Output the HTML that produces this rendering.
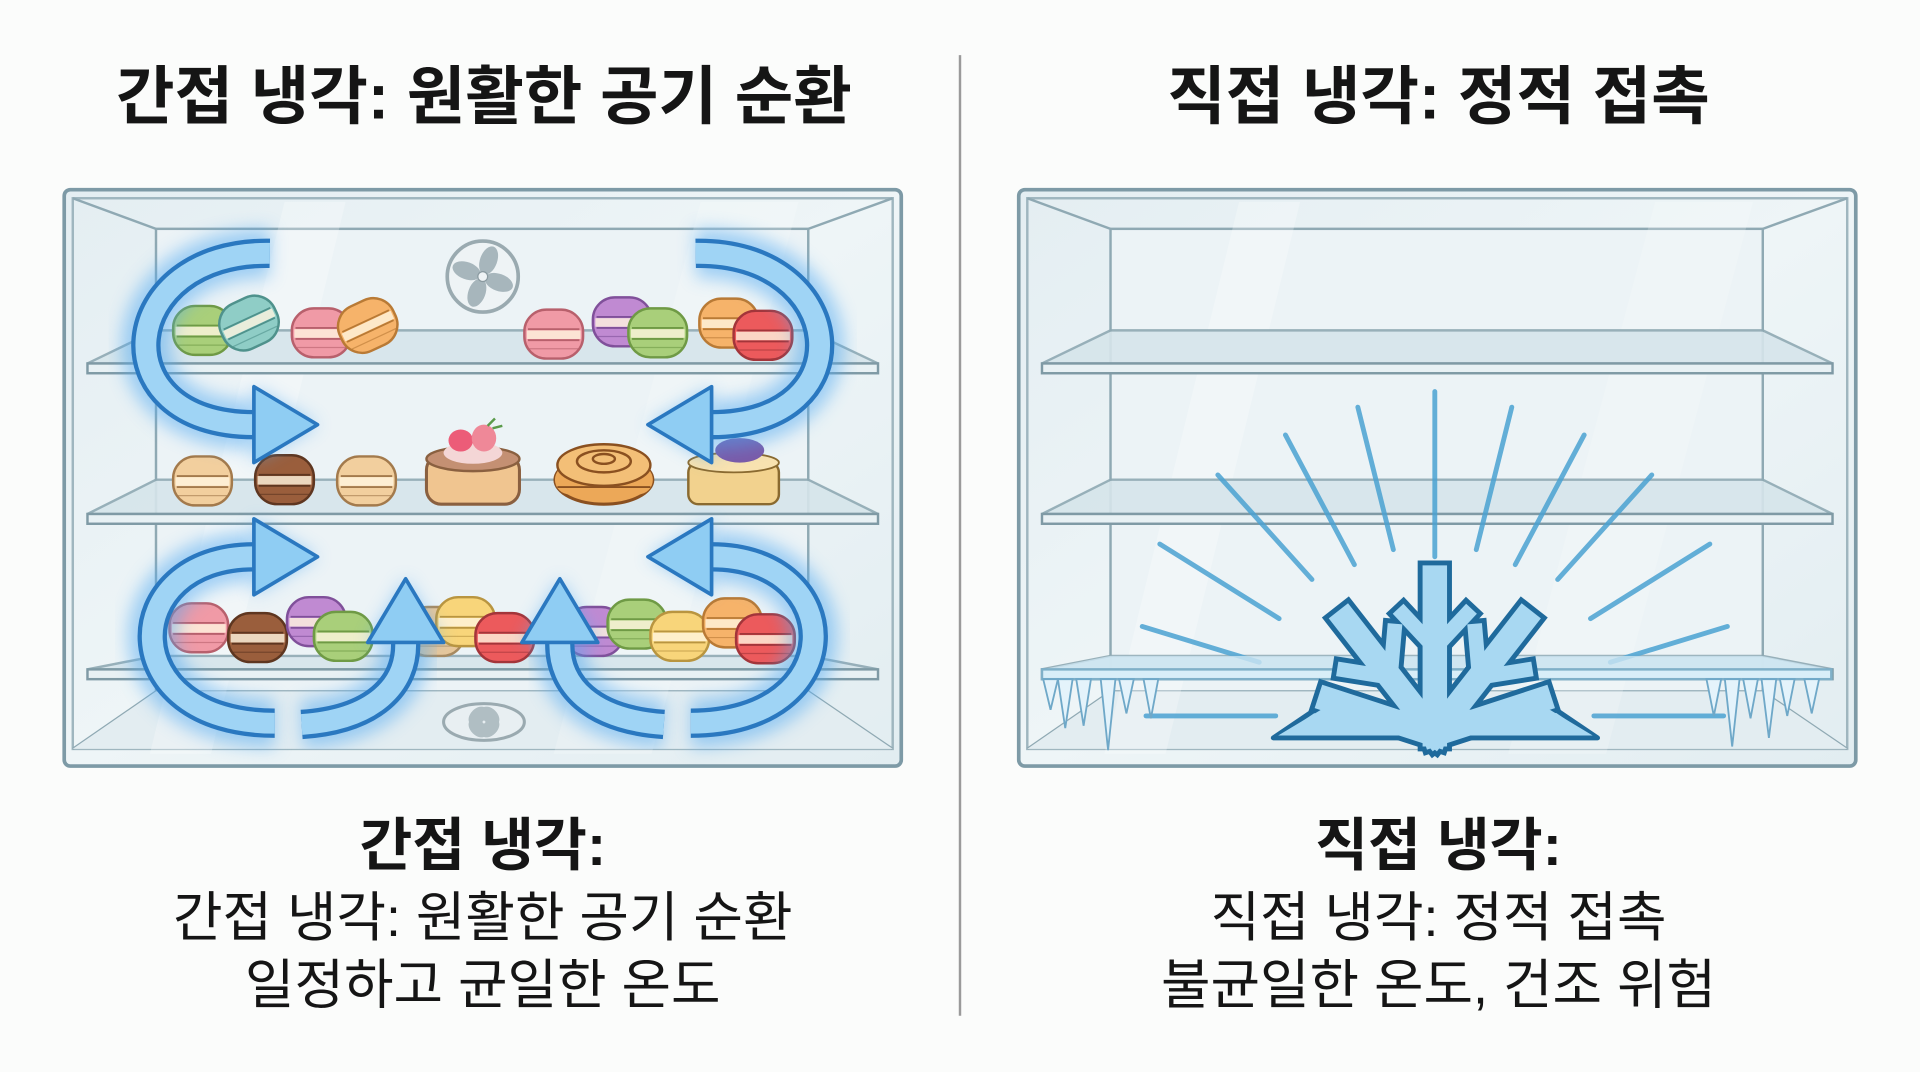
<!DOCTYPE html>
<html><head><meta charset="utf-8">
<style>
html,body{margin:0;padding:0;background:#fbfcfb;}
svg{display:block;}
text{font-family:"Liberation Sans","Noto Sans CJK KR",sans-serif;fill:#151515;}
</style></head>
<body>
<svg id="s" width="1920" height="1072" viewBox="0 0 1568 876" xmlns="http://www.w3.org/2000/svg">
<defs>
<filter id="glow" x="-30%" y="-30%" width="160%" height="160%"><feGaussianBlur stdDeviation="7"/></filter>
<linearGradient id="glass" x1="0" y1="0" x2="1" y2="1">
<stop offset="0" stop-color="#e4eef2"/><stop offset="0.5" stop-color="#eef5f7"/><stop offset="1" stop-color="#e2edf1"/></linearGradient>
</defs>
<rect width="1568" height="876" fill="#fbfcfb"/>
<line x1="784" y1="45" x2="784" y2="830" stroke="#9a9a9a" stroke-width="2"/>

<text x="395" y="97" font-size="52" font-weight="bold" text-anchor="middle">간접 냉각: 원활한 공기 순환</text>
<text x="1175" y="97" font-size="52" font-weight="bold" text-anchor="middle">직접 냉각: 정적 접촉</text>

<g id="boxes"></g>
<g id="content"></g>

<text x="394" y="707" font-size="47" font-weight="bold" text-anchor="middle">간접 냉각:</text>
<text x="394" y="765" font-size="44" text-anchor="middle">간접 냉각: 원활한 공기 순환</text>
<text x="394" y="820" font-size="44" text-anchor="middle">일정하고 균일한 온도</text>
<text x="1175" y="707" font-size="47" font-weight="bold" text-anchor="middle">직접 냉각:</text>
<text x="1175" y="765" font-size="44" text-anchor="middle">직접 냉각: 정적 접촉</text>
<text x="1175" y="820" font-size="44" text-anchor="middle">불균일한 온도, 건조 위험</text>
</svg>
<script>
const NS="http://www.w3.org/2000/svg";
function el(parent,tag,attrs){const e=document.createElementNS(NS,tag);for(const k in attrs)e.setAttribute(k,attrs[k]);parent.appendChild(e);return e;}
const boxes=document.getElementById('boxes'), C=document.getElementById('content');
const SC="#7d9aa6";
function box(x0){
  const g=el(boxes,'g',{});
  const L=x0, R=x0+684, T=155, B=626;
  const il=L+7, ir=R-7, it=T+7, ib=B-14;
  const bl=L+75, br=R-76, bt=187, bb=565;
  el(g,'rect',{x:L,y:T,width:R-L,height:B-T,rx:5,fill:"url(#glass)",stroke:SC,"stroke-width":3});
  el(g,'rect',{x:il,y:it,width:ir-il,height:ib-it,fill:"none",stroke:"#9fb6bf","stroke-width":2});
  el(g,'rect',{x:bl,y:bt,width:br-bl,height:bb-bt,fill:"#ecf3f6",stroke:"#8fa9b3","stroke-width":2});
  [[il,it,bl,bt],[ir,it,br,bt],[il,ib,bl,bb],[ir,ib,br,bb]].forEach(a=>el(g,'line',{x1:a[0],y1:a[1],x2:a[2],y2:a[3],stroke:"#8fa9b3","stroke-width":2}));
  el(g,'polygon',{points:`${il},${ib} ${bl},${bb} ${br},${bb} ${ir},${ib}`,fill:"#e3edf1",stroke:"none"});
  el(g,'polygon',{points:`${L+180},${T+10} ${L+230},${T+10} ${L+120},${B-10} ${L+70},${B-10}`,fill:"#fff",opacity:0.25});
  el(g,'polygon',{points:`${L+520},${T+10} ${L+600},${T+10} ${L+480},${B-10} ${L+400},${B-10}`,fill:"#fff",opacity:0.2});
  [[270,297],[392,420],[536,547]].forEach(s=>{
    el(g,'polygon',{points:`${bl},${s[0]} ${br},${s[0]} ${R-19},${s[1]} ${L+19},${s[1]}`,fill:"#d6e5eb",stroke:"#8fa9b3","stroke-width":2,opacity:0.9});
    el(g,'rect',{x:L+19,y:s[1],width:R-L-38,height:8,fill:"#e8f1f4",stroke:"#7f9aa5","stroke-width":2});
  });
}
box(52); box(832);

function mac(x,y,col,dark,rot){
  const g=el(C,'g',{transform:`translate(${x},${y}) rotate(${rot||0})`});
  const w=48,h=40;
  el(g,'rect',{x:-w/2,y:-h/2,width:w,height:h,rx:18,fill:col,stroke:dark,"stroke-width":2});
  el(g,'rect',{x:-w/2+2,y:-3,width:w-4,height:7,fill:"#fff5e0",opacity:0.8});
  el(g,'line',{x1:-w/2+3,y1:-4,x2:w/2-3,y2:-4,stroke:dark,"stroke-width":1.5});
  el(g,'line',{x1:-w/2+3,y1:5,x2:w/2-3,y2:5,stroke:dark,"stroke-width":1.5});
  el(g,'line',{x1:-w/2+4,y1:12,x2:w/2-4,y2:12,stroke:dark,"stroke-width":1,opacity:0.6});
}
const P={green:["#a9cf7a","#6f9a45"],teal:["#8fcdc6","#4f928c"],pink:["#f09aa6","#b8606c"],orange:["#f6b36a","#b97a35"],purple:["#c08ad2","#80509a"],red:["#ec5a5c","#a3353a"],beige:["#f2cf9e","#a37a4c"],brown:["#9a5e3c","#5e3620"],yellow:["#f8d57a","#b99540"],tan:["#e8c79a","#a88a60"]};
function m(x,y,c,r){mac(x,y,P[c][0],P[c][1],r);}
m(165,270,"green");m(203,264,"teal",-25);m(262,272,"pink");m(300,266,"orange",-25);
m(452,273,"pink");m(508,263,"purple");m(537,272,"green");m(595,264,"orange");m(623,274,"red");
m(165,393,"beige");m(232,392,"brown");m(299,393,"beige");
m(162,513,"pink");m(210,521,"brown");m(258,508,"purple");m(280,520,"green");
m(355,516,"tan");m(380,508,"yellow");m(412,521,"red");
m(485,516,"purple");m(520,510,"green");m(555,520,"yellow");m(598,509,"orange");m(625,522,"red");

(function(){
  const g=el(C,'g',{});
  el(g,'rect',{x:348,y:372,width:76,height:40,rx:12,fill:"#f0c590",stroke:"#8a6040","stroke-width":2.5});
  el(g,'ellipse',{cx:386,cy:375,rx:38,ry:10,fill:"#c49073",stroke:"#8a6040","stroke-width":2});
  el(g,'ellipse',{cx:386,cy:370,rx:24,ry:9,fill:"#f4d6d6"});
  el(g,'ellipse',{cx:376,cy:360,rx:10,ry:9,fill:"#ec5c78"});
  el(g,'ellipse',{cx:395,cy:358,rx:10,ry:11,fill:"#ef8898"});
  el(g,'path',{d:"M398 348 l6 -6 M402 350 l8 -2",stroke:"#5a9a4a","stroke-width":2});
  el(g,'ellipse',{cx:493,cy:392,rx:40,ry:20,fill:"#eca858",stroke:"#8a5020","stroke-width":2.5});
  el(g,'rect',{x:453,y:380,width:80,height:24,rx:12,fill:"#eca858",stroke:"none"});
  el(g,'ellipse',{cx:493,cy:380,rx:38,ry:17,fill:"#f3bf77",stroke:"#8a5020","stroke-width":2});
  el(g,'ellipse',{cx:493,cy:377,rx:22,ry:9,fill:"none",stroke:"#8a5020","stroke-width":2});
  el(g,'ellipse',{cx:493,cy:375,rx:9,ry:4,fill:"none",stroke:"#8a5020","stroke-width":2});
  el(g,'line',{x1:455,y1:398,x2:531,y2:398,stroke:"#8a5020","stroke-width":1.5});
  el(g,'rect',{x:562,y:378,width:74,height:34,rx:8,fill:"#f2d28e",stroke:"#8a6a30","stroke-width":2});
  el(g,'ellipse',{cx:599,cy:378,rx:37,ry:8,fill:"#f8e2b0",stroke:"#8a6a30","stroke-width":1.5});
  el(g,'ellipse',{cx:604,cy:368,rx:20,ry:10,fill:"#7a5aa8"});
})();

(function(){
  const g=el(C,'g',{});
  el(g,'circle',{cx:394,cy:226,r:29,fill:"#eef3f5",stroke:"#9aaab0","stroke-width":3});
  for(let i=0;i<4;i++){el(g,'ellipse',{cx:394,cy:212,rx:7,ry:12,fill:"#a7b6bc",transform:`rotate(${i*90+20} 394 226)`});}
  el(g,'circle',{cx:394,cy:226,r:4,fill:"#eef3f5",stroke:"#8a9aa0"});
  el(g,'ellipse',{cx:395,cy:590,rx:33,ry:15,fill:"#e8eff2",stroke:"#9aaab0","stroke-width":2.5});
  for(let i=0;i<4;i++){el(g,'ellipse',{cx:395,cy:583,rx:9,ry:6,fill:"#b0bec3",transform:`rotate(${i*90+45} 395 590) `});}
})();

function arrow(d,E,u){
  const g=el(C,'g',{});
  const n=[-u[1],u[0]], hw=31, hl=52;
  const tip=[E[0]+u[0]*hl,E[1]+u[1]*hl];
  const a=[E[0]+n[0]*hw,E[1]+n[1]*hw], b=[E[0]-n[0]*hw,E[1]-n[1]*hw];
  const head=`${a[0]},${a[1]} ${tip[0]},${tip[1]} ${b[0]},${b[1]}`;
  el(g,'path',{d,fill:"none",stroke:"#4ea8f2","stroke-width":40,opacity:0.5,filter:"url(#glow)"});
  el(g,'polygon',{points:head,fill:"#4ea8f2",opacity:0.5,filter:"url(#glow)"});
  el(g,'path',{d,fill:"none",stroke:"#2a78c0","stroke-width":24});
  el(g,'path',{d,fill:"none",stroke:"#9fd4f5","stroke-width":17});
  el(g,'polygon',{points:head,fill:"#8fcdf3",stroke:"#2a78c0","stroke-width":3,"stroke-linejoin":"round"});
}
function mir(d){return d.replace(/(-?\d+\.?\d*),(-?\d+\.?\d*)/g,(s,x,y)=>(788-parseFloat(x))+","+y);}
const A=[
 ["M220,207 C95,205 80,347 207,347",[207,347],[1,0]],
 ["M224,591 C92,591 95,455 207,455",[207,455],[1,0]],
 ["M246,592 C305,588 332,560 331,525",[331,525],[0,-1]]
];
A.forEach(a=>{arrow(a[0],a[1],a[2]);arrow(mir(a[0]),[788-a[1][0],a[1][1]],[-a[2][0],a[2][1]]);});

(function(){
  const g=el(C,'g',{});
  const cx=1172,cy=585;
  const R=[[180,130,236],[163,150,250],[148,150,265],[132,150,265],[118,140,260],[104,140,260],[90,130,265]];
  R.forEach(r=>{[r[0],180-r[0]].forEach((ang,i)=>{if(i==1&&r[0]==90)return;
    const t=ang*Math.PI/180;
    el(g,'line',{x1:cx+Math.cos(t)*r[1],y1:cy-Math.sin(t)*r[1],x2:cx+Math.cos(t)*r[2],y2:cy-Math.sin(t)*r[2],stroke:"#4ba2d2","stroke-width":4,"stroke-linecap":"round",opacity:0.85});});});
  el(g,'polygon',{points:"907,536 1439,536 1496,547 851,547",fill:"#cde6f3",opacity:0.8});
  el(g,'rect',{x:851,y:547,width:645,height:8,fill:"#d8eef8",stroke:"#7fb0c8","stroke-width":2});
  [[858,25],[870,40],[885,38],[905,58],[920,28],[940,32],[1400,30],[1415,55],[1430,32],[1445,48],[1460,30],[1480,28]].forEach(c=>{
    el(g,'polygon',{points:`${c[0]-6},555 ${c[0]+6},555 ${c[0]},${555+c[1]}`,fill:"#e4f3fb",stroke:"#6fa8c8","stroke-width":1.5});});
  // snowflake: draw all dark strokes, then all light strokes
  const segs=[];
  const arms=[[90,128,0.55],[128,118,0.5],[52,118,0.5],[162,90,0],[18,90,0]];
  arms.forEach(a=>{const t=a[0]*Math.PI/180, L=a[1];
    const x2=1172+Math.cos(t)*L, y2=600-Math.sin(t)*L;
    segs.push([1172,600,x2,y2,20]);
    if(a[2]){const px=1172+Math.cos(t)*L*a[2], py=600-Math.sin(t)*L*a[2];
      [t+0.75,t-0.75].forEach(tt=>{segs.push([px,py,px+Math.cos(tt)*38,py-Math.sin(tt)*38,12]);});}
  });
  const sf=el(g,'g',{});
  el(sf,'polygon',{points:"1040,603 1305,603 1268,578 1077,578",fill:"#a8d8f2",stroke:"#1f6a9c","stroke-width":4,"stroke-linejoin":"round"});
  segs.forEach(s=>el(sf,'line',{x1:s[0],y1:s[1],x2:s[2],y2:s[3],stroke:"#1f6a9c","stroke-width":s[4]+8,"stroke-linecap":"square"}));
  el(sf,'polygon',{points:"1044,601 1301,601 1266,580 1079,580",fill:"#a8d8f2"});
  segs.forEach(s=>el(sf,'line',{x1:s[0],y1:s[1],x2:s[2],y2:s[3],stroke:"#a8d8f2","stroke-width":s[4],"stroke-linecap":"square"}));
})();
</script>
</body></html>
